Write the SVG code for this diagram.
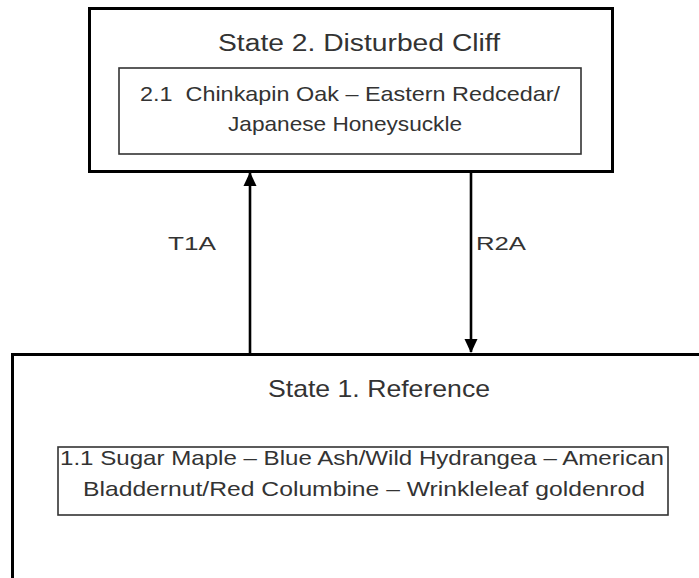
<svg xmlns="http://www.w3.org/2000/svg" width="699" height="578" viewBox="0 0 699 578">
<defs>
<style>
.outer{fill:#fff;stroke:#000;stroke-width:3}
.inner{fill:#fff;stroke:#333;stroke-width:1.6}
text{font-family:"Liberation Sans",Arial,sans-serif;fill:#333;text-anchor:middle}
.conn{stroke:#000;stroke-width:2.6;fill:none}
</style>
<marker id="ah2" markerWidth="14" markerHeight="14" refX="13" refY="7" orient="auto" markerUnits="userSpaceOnUse" viewBox="0 0 14 14">
<path d="M0,0.5 L14,7 L0,13.5 Z" fill="#000"/>
</marker>
</defs>
<rect width="699" height="578" fill="#fff"/>
<g id="connectors">
<line class="conn" x1="250" y1="354" x2="250" y2="173" marker-end="url(#ah2)"/>
<line class="conn" x1="471" y1="171" x2="471" y2="352" marker-end="url(#ah2)"/>
<text x="192" y="250" font-size="19" textLength="48" lengthAdjust="spacingAndGlyphs">T1A</text>
<text x="501" y="250" font-size="19" textLength="50" lengthAdjust="spacingAndGlyphs">R2A</text>
</g>
<g id="state2">
<rect class="outer" x="89.5" y="8.5" width="523" height="163"/>
<text x="359" y="51" font-size="23" textLength="282" lengthAdjust="spacingAndGlyphs">State 2. Disturbed Cliff</text>
<g id="state2-1">
<rect class="inner" x="119" y="68" width="462" height="86"/>
<text x="350" y="101" font-size="21" textLength="420" lengthAdjust="spacingAndGlyphs">2.1&#160; Chinkapin Oak – Eastern Redcedar/</text>
<text x="345" y="131" font-size="21" textLength="234" lengthAdjust="spacingAndGlyphs">Japanese Honeysuckle</text>
</g>
</g>
<g id="state1">
<rect class="outer" x="12.5" y="354.5" width="690" height="230"/>
<text x="379" y="397" font-size="24" textLength="222" lengthAdjust="spacingAndGlyphs">State 1. Reference</text>
<g id="state1-1">
<rect class="inner" x="58" y="447" width="610" height="68"/>
<text x="362" y="465" font-size="21" textLength="604" lengthAdjust="spacingAndGlyphs">1.1 Sugar Maple – Blue Ash/Wild Hydrangea – American</text>
<text x="364" y="496" font-size="21" textLength="562" lengthAdjust="spacingAndGlyphs">Bladdernut/Red Columbine – Wrinkleleaf goldenrod</text>
</g>
</g>
</svg>
